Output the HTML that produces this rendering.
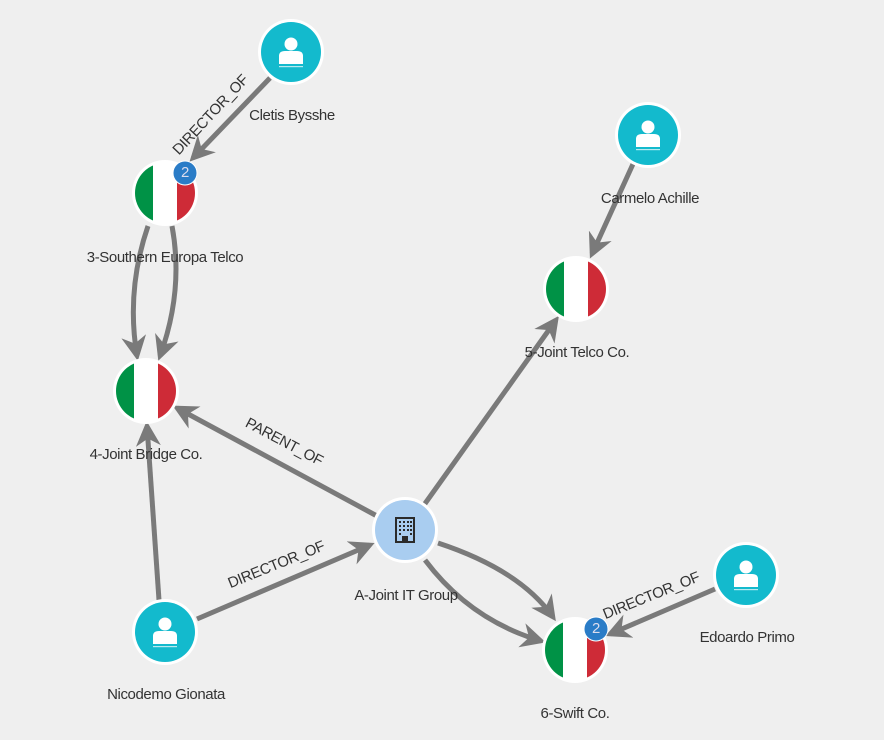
<!DOCTYPE html>
<html><head><meta charset="utf-8"><style>
html,body{margin:0;padding:0;background:#efefef;}
svg{display:block;}
text{font-family:"Liberation Sans",sans-serif;font-size:15px;fill:#333;letter-spacing:-0.4px;}
.e{stroke:#7a7a7a;stroke-width:5;fill:none;}
</style></head><body>
<svg width="884" height="740" viewBox="0 0 884 740" xmlns="http://www.w3.org/2000/svg">
<defs>
<marker id="a" viewBox="0 0 10 10" refX="8" refY="5" markerWidth="5" markerHeight="5" orient="auto" markerUnits="strokeWidth">
<path d="M0,0 L10,5 L0,10 L3,5 Z" fill="#7a7a7a"/></marker>
<clipPath id="c"><circle cx="0" cy="0" r="30"/></clipPath>
<g id="person"><circle r="33" fill="#fff"/><circle r="30" fill="#13bacd"/>
<circle cx="0" cy="-8" r="6.5" fill="#fff"/><path d="M-12,12 L-12,4 Q-12,-1 -6,-1 L6,-1 Q12,-1 12,4 L12,12 Z" fill="#fff"/>
<rect x="-12" y="14" width="24" height="1.2" fill="#fff" opacity="0.7"/></g>
<g id="flag"><circle r="33" fill="#fff"/><g clip-path="url(#c)">
<rect x="-30" y="-30" width="18" height="60" fill="#009246"/><rect x="-12" y="-30" width="24" height="60" fill="#fff"/><rect x="12" y="-30" width="18" height="60" fill="#ce2b37"/></g></g>
</defs>

<line class="e" x1="270" y1="78" x2="193" y2="158" marker-end="url(#a)"/>
<path class="e" d="M148,226 Q126,290 137,356" marker-end="url(#a)"/>
<path class="e" d="M172,226 Q184,290 160,356" marker-end="url(#a)"/>
<line class="e" x1="633" y1="164" x2="592" y2="254" marker-end="url(#a)"/>
<line class="e" x1="424" y1="505" x2="556" y2="320" marker-end="url(#a)"/>
<line class="e" x1="377" y1="516" x2="177" y2="408" marker-end="url(#a)"/>
<line class="e" x1="159" y1="600" x2="147" y2="426" marker-end="url(#a)"/>
<line class="e" x1="197" y1="619" x2="370" y2="545" marker-end="url(#a)"/>
<path class="e" d="M438,543 Q520,570 553,617" marker-end="url(#a)"/>
<path class="e" d="M425,560 Q470,620 541,641" marker-end="url(#a)"/>
<line class="e" x1="715" y1="589" x2="610" y2="634" marker-end="url(#a)"/>

<text transform="translate(214,118) rotate(-47)" text-anchor="middle" font-size="14">DIRECTOR_OF</text>
<text transform="translate(282,446) rotate(28)" text-anchor="middle" font-size="14">PARENT_OF</text>
<text transform="translate(278,569) rotate(-22)" text-anchor="middle" font-size="14">DIRECTOR_OF</text>
<text transform="translate(653,600) rotate(-22)" text-anchor="middle" font-size="14">DIRECTOR_OF</text>

<use href="#person" x="291" y="52"/>
<use href="#flag" x="165" y="193"/>
<use href="#flag" x="146" y="391"/>
<use href="#person" x="648" y="135"/>
<use href="#flag" x="576" y="289"/>
<use href="#person" x="165" y="632"/>
<use href="#person" x="746" y="575"/>
<use href="#flag" x="575" y="650"/>

<g transform="translate(405,530)"><circle r="33" fill="#fff"/><circle r="30" fill="#a9cdf0"/>
<rect x="-10" y="-13" width="20" height="26" fill="#2b2b2b"/><rect x="-8" y="-11" width="16" height="22" fill="#a9cdf0"/>
<g fill="#2b2b2b"><rect x="-6" y="-9" width="2" height="2"/><rect x="-2" y="-9" width="2" height="2"/><rect x="2" y="-9" width="2" height="2"/><rect x="5" y="-9" width="2" height="2"/>
<rect x="-6" y="-5" width="2" height="2"/><rect x="-2" y="-5" width="2" height="2"/><rect x="2" y="-5" width="2" height="2"/><rect x="5" y="-5" width="2" height="2"/>
<rect x="-6" y="-1" width="2" height="2"/><rect x="-2" y="-1" width="2" height="2"/><rect x="2" y="-1" width="2" height="2"/><rect x="5" y="-1" width="2" height="2"/>
<rect x="-6" y="3" width="2" height="2"/><rect x="5" y="3" width="2" height="2"/><rect x="-3" y="6" width="6" height="6"/></g></g>

<circle cx="185" cy="173" r="12" fill="#2a7cc7" stroke="#fff" stroke-width="1"/>
<text x="185" y="177" text-anchor="middle" font-size="10" style="fill:#dde">2</text>
<circle cx="596" cy="629" r="12" fill="#2a7cc7" stroke="#fff" stroke-width="1"/>
<text x="596" y="633" text-anchor="middle" font-size="10" style="fill:#dde">2</text>

<text x="292" y="120" text-anchor="middle">Cletis Bysshe</text>
<text x="165" y="262" text-anchor="middle">3-Southern Europa Telco</text>
<text x="650" y="203" text-anchor="middle">Carmelo Achille</text>
<text x="577" y="357" text-anchor="middle">5-Joint Telco Co.</text>
<text x="146" y="459" text-anchor="middle">4-Joint Bridge Co.</text>
<text x="406" y="600" text-anchor="middle">A-Joint IT Group</text>
<text x="166" y="699" text-anchor="middle">Nicodemo Gionata</text>
<text x="747" y="642" text-anchor="middle">Edoardo Primo</text>
<text x="575" y="718" text-anchor="middle">6-Swift Co.</text>
</svg>
</body></html>
